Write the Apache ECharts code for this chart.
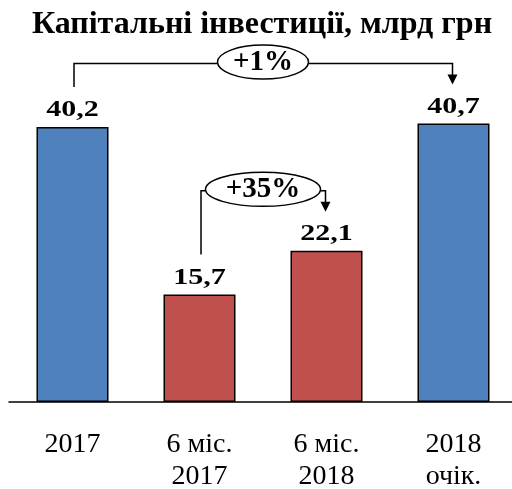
<!DOCTYPE html>
<html>
<head>
<meta charset="utf-8">
<script src="https://cdn.jsdelivr.net/npm/echarts@6/dist/echarts.min.js"></script>
<style>
html,body{margin:0;padding:0;background:#fff;}
#c{width:512px;height:489px;}
</style>
</head>
<body>
<div id="c"></div>
<script>
var titleText = 'Капітальні інвестиції, млрд грн';
var categories = ['2017', '6 міс.\n2017', '6 міс.\n2018', '2018\nочік.'];
var values = [40.2, 15.7, 22.1, 40.7];
var valueLabels = ['40,2', '15,7', '22,1', '40,7'];
var barColors = ['#4F81BD', '#C0504D', '#C0504D', '#4F81BD'];
var changes = [
  {from: 0, to: 3, label: '+1%', rx: 45.5},
  {from: 1, to: 2, label: '+35%', rx: 57.5}
];

var FONT = '"Liberation Serif", "Times New Roman", serif';
var chart = echarts.init(document.getElementById('c'), null, {renderer: 'canvas'});

var option = {
  animation: false,
  backgroundColor: '#ffffff',
  title: {
    text: titleText,
    left: 257, top: 4, textAlign: 'center',
    textStyle: {fontFamily: FONT, fontWeight: 'bold', fontSize: 32, color: '#000'}
  },
  grid: {left: 9, top: 60, width: 508, height: 342, containLabel: false, outerBoundsMode: 'none'},
  xAxis: {
    type: 'category',
    data: categories,
    axisLine: {lineStyle: {color: '#000', width: 1.5}},
    axisTick: {show: false},
    axisLabel: {
      margin: 27, fontFamily: FONT, fontSize: 28, lineHeight: 31.5, color: '#000',
      interval: 0
    }
  },
  yAxis: {
    type: 'value', min: 0, max: 50,
    show: false, splitLine: {show: false}
  },
  series: [{
    type: 'bar',
    barWidth: 72,
    data: values.map(function (v, i) {
      return {value: v, itemStyle: {color: barColors[i]}};
    }),
    itemStyle: {borderColor: '#000', borderWidth: 1.5},
    label: {show: false}
  }]
};
chart.setOption(option);

function px(i) { return chart.convertToPixel({seriesIndex: 0}, [i, values[i]]); }

var graphics = [];
values.forEach(function (v, i) {
  var p = px(i);
  graphics.push({
    type: 'text', x: p[0], y: p[1] - 17, scaleX: 1.25, z: 12,
    style: {text: valueLabels[i], fontFamily: FONT, fontWeight: 'bold', fontSize: 24, fill: '#000', align: 'center', verticalAlign: 'middle'}
  });
});
changes.forEach(function (c) {
  var a = px(c.from), b = px(c.to);
  var startY = a[1] - 40;
  var tipY = b[1] - 39;
  var levelY = Math.min(a[1], b[1]) - 60;
  var cx = (a[0] + b[0]) / 2;
  var ry = 17;
  var ls = {stroke: '#000', lineWidth: 1.5, fill: null};
  graphics.push({type: 'polyline', shape: {points: [[a[0] + 1.5, startY], [a[0] + 1.5, levelY], [cx - c.rx, levelY]]}, style: ls, z: 10});
  graphics.push({type: 'polyline', shape: {points: [[cx + c.rx, levelY], [b[0] - 1, levelY], [b[0] - 1, tipY - 9]]}, style: ls, z: 10});
  graphics.push({type: 'polygon', shape: {points: [[b[0] - 6, tipY - 10], [b[0] + 4, tipY - 10], [b[0] - 1, tipY]]}, style: {fill: '#000'}, z: 10});
  graphics.push({type: 'ellipse', shape: {cx: cx, cy: levelY - 1.5, rx: c.rx, ry: ry}, style: {stroke: '#000', lineWidth: 1.5, fill: '#fff'}, z: 11});
  graphics.push({type: 'text', x: cx, y: levelY - 1, style: {text: c.label, fontFamily: FONT, fontWeight: 'bold', fontSize: 29, fill: '#000', align: 'center', verticalAlign: 'middle'}, z: 12});
});
chart.setOption({graphic: graphics});
</script>
</body>
</html>
